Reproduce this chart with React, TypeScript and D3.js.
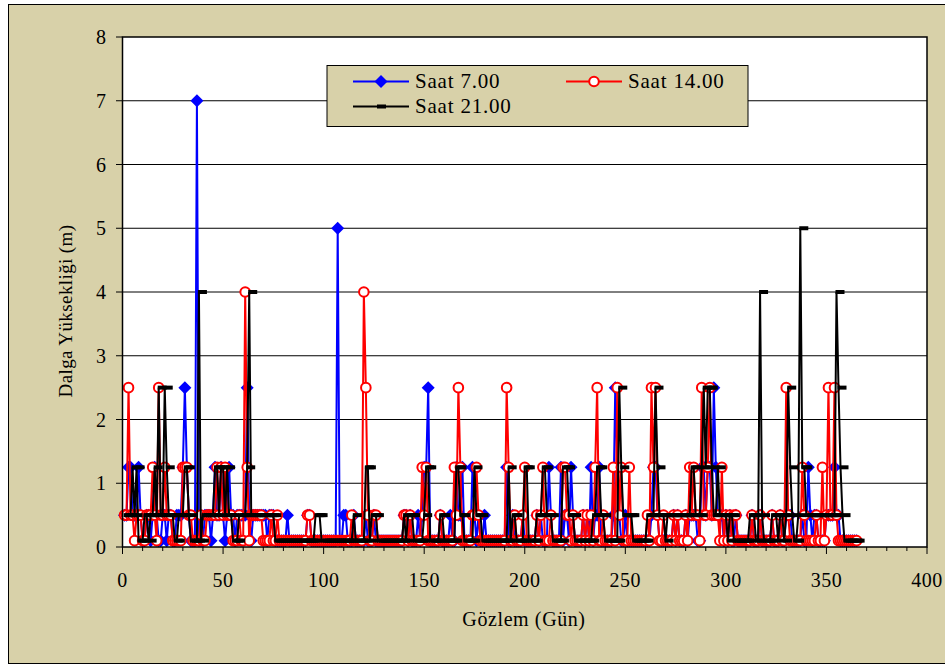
import React from 'react';
import * as d3 from 'd3';

const saat7 = [
  .5,.5,1.25,1.25,.5,.5,.5,1.25,.5,.1,
  .1,.5,.5,.1,.5,1.25,.5,.1,.1,.5,
  .5,.1,.5,.5,.1,.1,.5,.5,.5,1.25,
  2.5,1.25,.5,.1,.1,.1,7,.1,.1,.1,
  .5,.5,.5,.1,.5,1.25,.5,.5,1.25,.5,
  .1,.5,1.25,.5,.5,.1,.5,.5,.5,.5,
  .5,2.5,.5,.1,.5,.5,.5,.5,.5,.5,
  .5,.1,.5,.5,.5,.1,.1,.1,.1,.1,
  .1,.5,.1,.1,.1,.1,.1,.1,.1,.1,
  .1,.5,.5,.1,.1,.1,.1,.1,.1,.1,
  .1,.1,.1,.1,.1,.1,5,.1,.1,.5,
  .5,.1,.1,.1,.5,.1,.1,.1,.1,.1,
  .5,.1,.1,.1,.5,.1,.1,.1,.1,.1,
  .1,.1,.1,.1,.1,.1,.1,.1,.1,.5,
  .5,.1,.5,.1,.1,.1,.5,.1,.5,1.25,
  1.25,2.5,.1,.1,.1,.1,.1,.5,.1,.1,
  .1,.1,.5,.1,.1,1.25,.5,.5,1.25,.1,
  .1,.1,.1,1.25,.5,.1,.5,.1,.1,.5,
  .1,.1,.1,.1,.1,.1,.1,.1,.1,.1,
  1.25,.1,.1,.5,.1,.1,.1,.1,.5,.1,
  .1,.1,.1,.1,.1,.5,.1,.5,.1,.1,
  .1,1.25,.5,.1,.1,.1,.1,1.25,.1,.5,
  .5,.1,1.25,.5,.1,.1,.1,.1,.5,.1,
  .5,.1,1.25,.1,.5,.5,1.25,.1,.1,.1,
  .1,.1,.1,.5,2.5,1.25,.5,.1,.1,.5,
  .1,.1,.1,.1,.1,.1,.1,.1,.1,.1,
  .1,.1,.5,1.25,1.25,.5,.1,.1,.1,.1,
  .1,.1,.1,.5,.1,.5,.1,.1,.1,.5,
  .1,.5,.5,.5,.5,.1,.1,1.25,1.25,.5,
  1.25,1.25,.5,2.5,1.25,.5,.5,.5,.1,.5,
  .1,.5,.1,.1,.5,.1,.1,.1,.1,.1,
  .1,.1,.5,.1,.1,.1,.5,.1,.1,.1,
  .1,.1,.5,.1,.1,.1,.5,.1,.1,.5,
  .5,.5,.1,.1,.1,.1,.1,.5,.1,.1,
  1.25,.5,.1,.5,.5,.1,.1,.1,.1,.5,
  .5,.5,.5,1.25,.5,.5,.1,.1,.1,.1,
  .1,.1,.1,.1,.1,
];

const saat14 = [
  .5,.5,2.5,.5,.5,.1,.5,.5,.5,.1,
  .1,.5,.5,.5,1.25,.5,.1,2.5,.5,.5,
  1.25,.5,.5,.5,.1,.1,.1,.1,.1,1.25,
  1.25,1.25,.5,.5,.1,.1,.1,.1,.5,.1,
  .1,.5,.5,.5,.5,.5,1.25,.5,1.25,.5,
  1.25,.5,.5,.5,.1,.1,.1,.5,.1,.1,
  4,1.25,.1,.5,.5,.5,.5,.5,.5,.1,
  .1,.1,.1,.5,.1,.1,.5,.1,.1,.1,
  .1,.1,.1,.1,.1,.1,.1,.1,.1,.1,
  .1,.5,.5,.1,.1,.1,.1,.1,.1,.1,
  .1,.1,.1,.1,.1,.1,.1,.1,.1,.1,
  .1,.1,.1,.5,.1,.1,.1,.1,.1,4,
  2.5,.5,.1,.1,.5,.5,.1,.1,.1,.1,
  .1,.1,.1,.1,.1,.1,.1,.1,.1,.5,
  .5,.1,.5,.1,.1,.1,.1,.1,1.25,.5,
  1.25,.1,.1,.1,.1,.1,.1,.5,.1,.1,
  .1,.1,.1,.1,1.25,.5,2.5,1.25,.1,.1,
  .1,.1,.1,.5,.5,1.25,.5,.1,.1,.1,
  .1,.1,.1,.1,.1,.1,.1,.1,.1,.1,
  2.5,1.25,.1,.1,.5,.1,.1,.1,.5,1.25,
  .1,.1,.1,.1,.1,.5,.1,.5,1.25,.1,
  .1,.1,.5,.1,.1,.1,.1,.1,1.25,1.25,
  .5,.5,.1,.5,.1,.1,.1,.1,.5,.1,
  .5,.1,.5,.1,1.25,2.5,.1,.1,.5,.1,
  .1,.1,.1,1.25,.1,2.5,.5,1.25,.1,.1,
  .1,1.25,.1,.1,.1,.1,.1,.1,.1,.1,
  .5,.1,2.5,1.25,2.5,.5,.1,.1,.5,.1,
  .1,.1,.1,.5,.1,.5,.1,.1,.1,.5,
  .1,1.25,.5,1.25,.5,.5,.1,2.5,.5,.5,
  1.25,2.5,.5,.5,.5,.5,.1,1.25,.1,.5,
  .1,.5,.1,.5,.5,.1,.1,.1,.1,.1,
  .1,.1,.5,.1,.1,.1,.5,.1,.1,.1,
  .1,.1,.5,.1,.1,.1,.5,.1,.1,2.5,
  .5,.1,.1,.1,.1,.1,.1,1.25,.5,.1,
  .1,.1,.1,.1,.5,.1,.1,1.25,.1,.5,
  2.5,.5,.5,2.5,.5,.1,.1,.1,.1,.1,
  .1,.1,.1,.1,.1,
];

const saat21 = [
  .5,.5,.5,.5,1.25,.5,1.25,.1,.1,.1,
  .5,.5,.1,.5,.5,1.25,.5,2.5,.5,.5,
  2.5,1.25,.5,.5,.5,.1,.1,.5,.5,.5,
  1.25,1.25,.5,.1,.1,.1,.1,4,.1,.5,
  .5,.5,.5,.5,.5,1.25,1.25,.5,1.25,1.25,
  .5,1.25,.5,.5,.1,.1,.1,.5,.5,.5,
  .5,1.25,4,.5,.5,.5,.5,.5,.5,.5,
  .5,.5,.5,.5,.5,.1,.1,.1,.1,.1,
  .1,.1,.1,.1,.1,.1,.1,.1,.1,.1,
  .1,.1,.1,.1,.1,.5,.5,.5,.1,.1,
  .1,.1,.1,.1,.1,.1,.1,.1,.1,.1,
  .1,.1,.1,.1,.5,.1,.1,.1,.1,.1,
  1.25,1.25,.1,.5,.5,.5,.1,.1,.1,.1,
  .1,.1,.1,.1,.1,.1,.1,.1,.1,.5,
  .1,.5,.5,.5,.1,.1,.1,.1,.1,.5,
  1.25,1.25,.1,.1,.1,.1,.1,.5,.5,.1,
  .1,.1,.1,.1,.1,1.25,1.25,.5,.5,.1,
  .1,.1,.1,.1,1.25,.5,.5,.5,.1,.1,
  .1,.1,.1,.1,.1,.1,.1,.1,.1,.1,
  .1,1.25,.1,.5,.5,.1,.1,.1,.1,1.25,
  1.25,.1,.1,.1,.1,.5,.5,.5,1.25,1.25,
  .5,.5,.5,.1,.1,.1,.1,.1,1.25,1.25,
  1.25,.5,.5,.5,.1,.1,.1,.1,.1,.1,
  .1,.1,.1,.5,.5,1.25,1.25,.5,.5,.1,
  .1,.1,.1,.1,.1,.1,2.5,1.25,.5,.5,
  .5,.5,.5,.1,.1,.1,.1,.1,.1,.1,
  .5,.5,.5,.5,2.5,1.25,.5,.5,.5,.1,
  .5,.5,.5,.5,.5,.5,.5,.5,.5,.5,
  .5,.5,1.25,1.25,.5,.5,.5,1.25,2.5,1.25,
  2.5,2.5,1.25,.5,.5,1.25,.5,.5,.5,.5,
  .1,.5,.5,.1,.1,.1,.1,.1,.1,.1,
  .1,.5,.5,.5,.1,.1,4,.5,.1,.1,
  .1,.1,.5,.5,.5,.1,.5,.5,.1,.5,
  2.5,1.25,.5,.1,.1,.5,5,1.25,1.25,.5,
  .5,.5,.5,.5,.5,.5,.5,.5,.5,.5,
  .5,.5,.5,.5,4,2.5,1.25,.5,.1,.1,
  .1,.1,.1,.1,.1,
];

const xTicks = [0, 50, 100, 150, 200, 250, 300, 350, 400];
const xMinor = d3.range(0, 401, 10);
const yTicks = [0, 1, 2, 3, 4, 5, 6, 7, 8];

const FONT = 'Liberation Serif, DejaVu Serif, serif';
const BEIGE = '#d8d1a9';

const App = () => {
  const x = d3.scaleLinear().domain([0, 400]).range([122.5, 927]);
  const y = d3.scaleLinear().domain([0, 8]).range([547, 37]);

  const line = d3
    .line<number>()
    .x((d, i) => x(i + 1))
    .y((d) => y(d));

  const diamond = (cx, cy, r) =>
    `M${cx},${cy - r}L${cx + r},${cy}L${cx},${cy + r}L${cx - r},${cy}Z`;

  const txt = { fontFamily: FONT };

  return (
    <svg
      width={945}
      height={671}
      style={{ position: 'absolute', left: 0, top: 0 }}
    >
      {/* chart area */}
      <rect x={0} y={0} width={945} height={671} fill="#ffffff" />
      <rect x={8.5} y={4.5} width={960} height={659} fill={BEIGE} stroke="#000" strokeWidth={1} />

      {/* plot area */}
      <rect x={122.5} y={37} width={927 - 122.5} height={510} fill="#ffffff" />
      {yTicks.slice(1, -1).map((t) => (
        <line key={t} x1={122.5} x2={927} y1={y(t)} y2={y(t)} stroke="#000" strokeWidth={1} />
      ))}

      {/* series: 7.00 */}
      <path d={line(saat7) ?? ''} fill="none" stroke="#0000ff" strokeWidth={2} />
      {saat7.map((v, i) => (
        <path key={'b' + i} d={diamond(x(i + 1), y(v), 6.5)} fill="#0000ff" />
      ))}

      {/* series: 14.00 */}
      <path d={line(saat14) ?? ''} fill="none" stroke="#ff0000" strokeWidth={2} />
      {saat14.map((v, i) => (
        <circle key={'r' + i} cx={x(i + 1)} cy={y(v)} r={4.8} fill="#ffffff" stroke="#ff0000" strokeWidth={2} />
      ))}

      {/* series: 21.00 */}
      <path d={line(saat21) ?? ''} fill="none" stroke="#000000" strokeWidth={2} />
      {saat21.map((v, i) => (
        <rect key={'k' + i} x={x(i + 1) - 1} y={y(v) - 2} width={9} height={4} fill="#000" />
      ))}

      {/* frame of plot */}
      <rect x={122.5} y={37} width={927 - 122.5} height={510} fill="none" stroke="#000" strokeWidth={1.5} />

      {/* y axis */}
      {yTicks.map((t) => (
        <g key={'y' + t}>
          <line x1={116} x2={122.5} y1={y(t)} y2={y(t)} stroke="#000" strokeWidth={1} />
          <text x={106} y={y(t)} dy="0.35em" textAnchor="end" style={txt} fontSize={20}>
            {t}
          </text>
        </g>
      ))}

      {/* x axis */}
      {xMinor.map((t) => (
        <line key={'m' + t} x1={x(t)} x2={x(t)} y1={547} y2={t % 50 === 0 ? 554 : 551} stroke="#000" strokeWidth={1} />
      ))}
      {xTicks.map((t) => (
        <text key={'x' + t} x={x(t)} y={587} textAnchor="middle" style={txt} fontSize={20} letterSpacing={0.5}>
          {t}
        </text>
      ))}

      <text x={524} y={626} textAnchor="middle" style={txt} fontSize={20} letterSpacing={0.6}>
        Gözlem (Gün)
      </text>
      <text
        transform="translate(72,311) rotate(-90)"
        textAnchor="middle"
        style={txt}
        fontSize={19}
        letterSpacing={0.4}
      >
        Dalga Yüksekliği (m)
      </text>

      {/* legend */}
      <rect x={327} y={65.5} width={421} height={61} fill={BEIGE} stroke="#000" strokeWidth={1} />
      <line x1={353} x2={409} y1={81.5} y2={81.5} stroke="#0000ff" strokeWidth={2} />
      <path d={diamond(381, 81.5, 6.5)} fill="#0000ff" />
      <text x={415} y={88} style={txt} fontSize={21} letterSpacing={0.8}>
        Saat 7.00
      </text>
      <line x1={566} x2={622} y1={81.5} y2={81.5} stroke="#ff0000" strokeWidth={2} />
      <circle cx={594} cy={81.5} r={4.8} fill="#ffffff" stroke="#ff0000" strokeWidth={2} />
      <text x={628} y={88} style={txt} fontSize={21} letterSpacing={0.8}>
        Saat 14.00
      </text>
      <line x1={353} x2={409} y1={106.5} y2={106.5} stroke="#000" strokeWidth={2} />
      <rect x={377} y={104.5} width={9} height={4} fill="#000" />
      <text x={415} y={113} style={txt} fontSize={21} letterSpacing={0.8}>
        Saat 21.00
      </text>
    </svg>
  );
};

export default App;
